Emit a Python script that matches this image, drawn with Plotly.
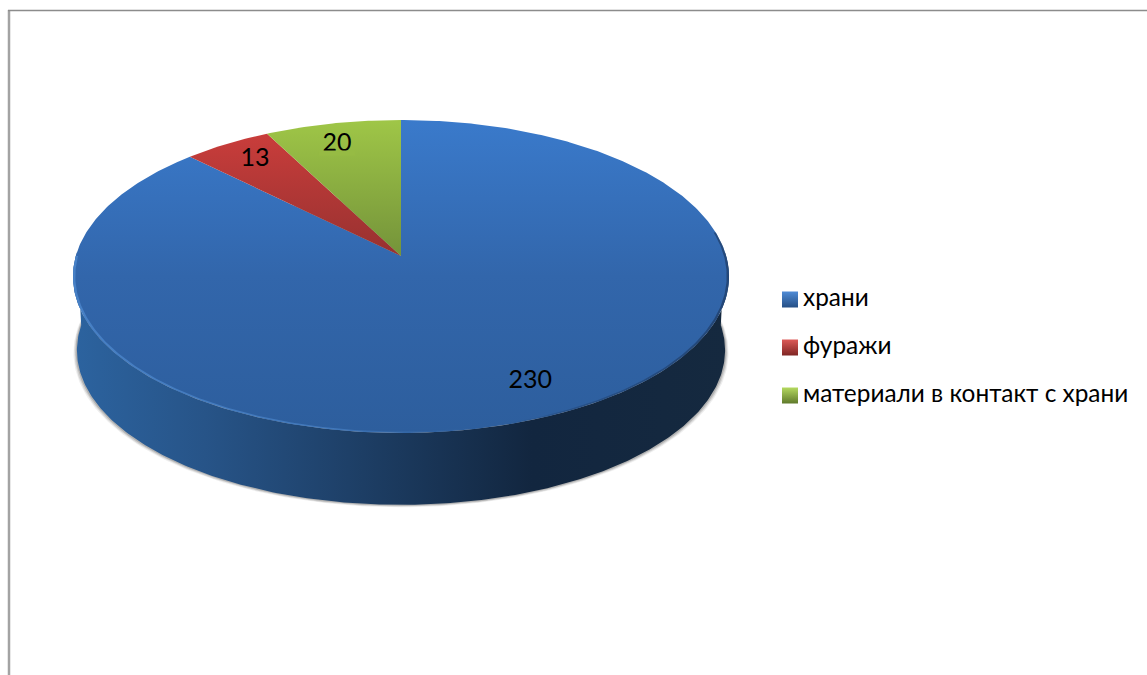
import numpy as np
import plotly.graph_objects as go

# ---- data ----
categories = ["храни", "фуражи", "материали в контакт с храни"]
values = [230, 13, 20]

# ---- styles ----
top_gradients = [
    [[0, "#3A7ACB"], [0.5, "#3266AB"], [1, "#2D5E9D"]],
    [[0, "#C93D3B"], [1, "#973130"]],
    [[0, "#9FC647"], [1, "#74933A"]],
]
legend_top = ["#4F8BD6", "#DD5B58", "#B4D95F"]
legend_bot = ["#254F85", "#7F2523", "#5F7A2B"]
FONT = "Lato"
LABEL_SIZE = 25
LEGEND_SIZE = 24.4

# ---- view geometry (pixels; a perspective projected disc) ----
W, H = 1147, 675
CX, CY = 401.0, 256.0
R, A, K = 325.2, 153.8, 0.131
BASE_SCALE, BASE_DROP = 0.988, 74.0


def project(theta, r=1.0):
    u, v = np.sin(theta) * r, np.cos(theta) * r
    d = 1 + K * v
    return CX + R * u / d, CY - A * v / d


def project_base(theta):
    x, y = project(theta)
    return CX + BASE_SCALE * (x - CX), CY + BASE_DROP + BASE_SCALE * (y - CY)


total = sum(values)
edges = np.concatenate([[0], np.cumsum(values)]) / total * 2 * np.pi
fig = go.Figure()

# soft shadow round the wall
full = np.linspace(0, 2 * np.pi, 361)
bx, by = project_base(full)
for grow, alpha in [(3.4, 0.10), (2.4, 0.18), (1.3, 0.28)]:
    fig.add_trace(go.Scatter(
        x=CX + (bx - CX) * (1 + grow / 322), y=by + grow * 0.7, mode="lines", fill="toself",
        line=dict(width=0), fillcolor=f"rgba(90,90,90,{alpha})", hoverinfo="skip", showlegend=False))

# outer wall, front half of the rim
t_front = np.linspace(np.pi * 0.49, np.pi * 1.51, 300)
tx, ty = project(t_front)
ux, uy = project_base(t_front[::-1])
fig.add_trace(go.Scatter(
    x=np.concatenate([tx, ux]), y=np.concatenate([ty, uy]), mode="lines", fill="toself",
    line=dict(width=0), hoverinfo="skip", showlegend=False,
    fillgradient=dict(type="horizontal", start=73, stop=729, colorscale=[
        [0.0, "#2C639F"], [0.2, "#275488"], [0.42, "#1E4068"], [0.7, "#12263F"], [1.0, "#15293F"]])))

# top surface slices
for i, name in enumerate(categories):
    th = np.linspace(edges[i], edges[i + 1], max(3, int((edges[i + 1] - edges[i]) * 90)))
    x, y = project(th)
    x = np.concatenate([[CX], x, [CX]])
    y = np.concatenate([[CY], y, [CY]])
    fig.add_trace(go.Scatter(
        x=x, y=y, mode="lines", fill="toself", line=dict(width=0), name=name,
        hoverinfo="skip", showlegend=False,
        fillgradient=dict(type="vertical", start=float(y.min()), stop=float(y.max()),
                          colorscale=top_gradients[i])))

# bevel along the front rim of the top surface
t_rim = np.linspace(np.pi * 0.45, np.pi * 1.5, 300)
ox, oy = project(t_rim)
ix, iy = project(t_rim[::-1], 0.993)
fig.add_trace(go.Scatter(
    x=np.concatenate([ox, ix]), y=np.concatenate([oy, iy]), mode="lines", fill="toself",
    line=dict(width=0), hoverinfo="skip", showlegend=False,
    fillgradient=dict(type="horizontal", start=73, stop=729, colorscale=[
        [0.0, "rgba(80,140,210,0.7)"], [0.4, "rgba(80,140,210,0.55)"],
        [0.62, "rgba(60,110,170,0.0)"], [0.75, "rgba(20,40,70,0.25)"], [1.0, "rgba(20,40,70,0.5)"]])))

# data labels, anchored in their slices
nudges = [(11, -9), (4, 0), (-5, 3)]
label_pos = []
for i, v in enumerate(values):
    mid = (edges[i] + edges[i + 1]) / 2
    ax, ay = project(mid, 0.85)
    lx, ly = float(ax) + nudges[i][0], float(ay) + nudges[i][1]
    label_pos.append((lx, ly))
    fig.add_trace(go.Scatter(
        x=[lx], y=[ly], mode="text", text=[str(v)], textposition="middle center",
        textfont=dict(family=FONT, size=LABEL_SIZE, color="#000000"),
        hoverinfo="skip", showlegend=False))

# the last label is cut off at its foot in the source picture
lx, ly = label_pos[2]
fig.add_trace(go.Scatter(
    x=[lx - 18, lx + 18, lx + 18, lx - 18, lx - 18],
    y=[ly + 6, ly + 6, ly + 11, ly + 11, ly + 6],
    mode="lines", fill="toself", line=dict(width=0), fillcolor="#96BB44",
    hoverinfo="skip", showlegend=False))

# legend: swatches and real text
legend_x, legend_text_x, legend_y0, legend_step = 790.0, 803.0, 299.5, 48.0
annotations = []
for i, name in enumerate(categories):
    fig.add_trace(go.Scatter(
        x=[legend_x], y=[legend_y0 + i * legend_step], mode="markers",
        marker=dict(symbol="square", size=16, color=legend_top[i],
                    gradient=dict(type="vertical", color=legend_bot[i]), line=dict(width=0)),
        hoverinfo="skip", showlegend=False))
    annotations.append(dict(
        x=legend_text_x, y=legend_y0 + i * legend_step - 3, text=name, showarrow=False,
        xanchor="left", yanchor="middle", xshift=-2,
        font=dict(family=FONT, size=LEGEND_SIZE, color="#000000")))

shapes = [
    dict(type="line", x0=9, x1=9, y0=10, y1=H, line=dict(color="#A3A3A3", width=2.5)),
    dict(type="line", x0=8, x1=W, y0=10.5, y1=10.5, line=dict(color="#8C8C8C", width=1.5)),
]

fig.update_layout(
    width=W, height=H, margin=dict(l=0, r=0, t=0, b=0),
    paper_bgcolor="white", plot_bgcolor="white", showlegend=False,
    xaxis=dict(range=[0, W], visible=False, fixedrange=True),
    yaxis=dict(range=[H, 0], visible=False, fixedrange=True),
    shapes=shapes, annotations=annotations,
)
fig.write_html("out.html", post_script="document.body.style.margin='0';document.body.style.overflow='hidden';",
               config={"displayModeBar": False})
